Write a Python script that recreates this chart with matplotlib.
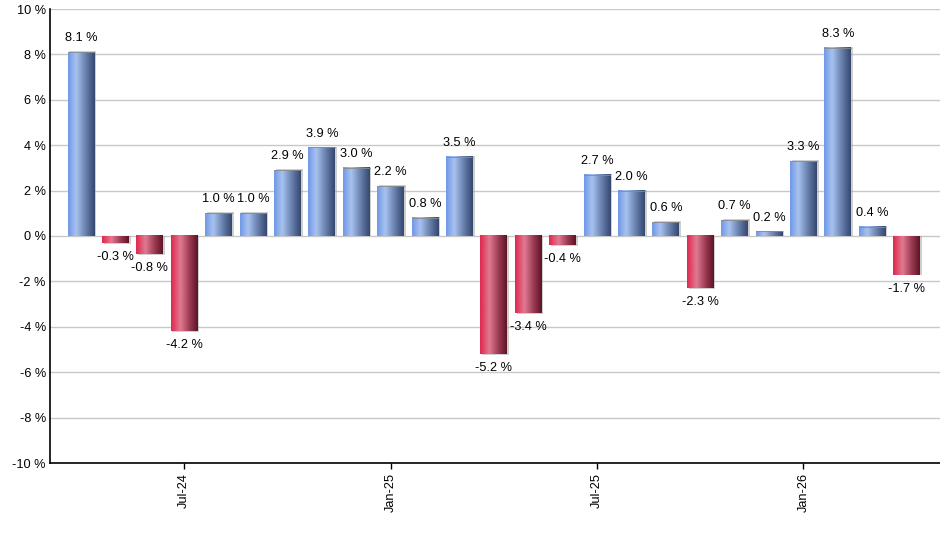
import numpy as np
import matplotlib
matplotlib.use("Agg")
import matplotlib.pyplot as plt
from matplotlib.colors import LinearSegmentedColormap
from matplotlib.patches import Rectangle

# monthly returns, Apr-24 .. Apr-26
months = ['Apr-24', 'May-24', 'Jun-24', 'Jul-24', 'Aug-24', 'Sep-24', 'Oct-24', 'Nov-24',
          'Dec-24', 'Jan-25', 'Feb-25', 'Mar-25', 'Apr-25', 'May-25', 'Jun-25', 'Jul-25',
          'Aug-25', 'Sep-25', 'Oct-25', 'Nov-25', 'Dec-25', 'Jan-26', 'Feb-26', 'Mar-26', 'Apr-26']
returns = [8.1, -0.3, -0.8, -4.2, 1.0, 1.0, 2.9, 3.9, 3.0, 2.2, 0.8, 3.5, -5.2, -3.4, -0.4,
           2.7, 2.0, 0.6, -2.3, 0.7, 0.2, 3.3, 8.3, 0.4, -1.7]
tick_months = ['Jul-24', 'Jan-25', 'Jul-25', 'Jan-26']

plt.rcParams['font.family'] = ['Liberation Sans', 'DejaVu Sans']

blue_cmap = LinearSegmentedColormap.from_list(
    'blue', [(0.0, '#6f98e6'), (0.3, '#a9c3f0'), (0.65, '#6a82b0'), (1.0, '#34486f')])
red_cmap = LinearSegmentedColormap.from_list(
    'red', [(0.0, '#e0284e'), (0.35, '#e07a92'), (0.7, '#9a3a52'), (1.0, '#5e1426')])

fig = plt.figure(figsize=(9.4, 5.5), dpi=100)
ax = fig.add_axes([50 / 940, 1 - 463 / 550, 890 / 940, 454 / 550])

x = np.arange(len(returns))
width = 0.78
grad = np.linspace(0, 1, 64).reshape(1, -1)
fs = 9.2

bars = ax.bar(x, returns, width, color='none', edgecolor='none', zorder=3)
for bar, val in zip(bars, returns):
    x0 = bar.get_x()
    w = bar.get_width()
    y0, y1 = min(0, val), max(0, val)
    # soft shadow to the right
    ax.add_patch(Rectangle((x0 + 0.05, y0 - 0.04 if val < 0 else y0), w, y1 - y0 + 0.04,
                           facecolor='#a0a0a0', edgecolor='none', alpha=0.5, zorder=2))
    cmap = blue_cmap if val >= 0 else red_cmap
    ax.imshow(grad, cmap=cmap, aspect='auto', extent=(x0, x0 + w, y0, y1),
              interpolation='bicubic', zorder=3)
    if val >= 0:
        ax.plot([x0, x0 + w], [val, val], color='#8a8a8a', lw=0.6, zorder=4)
        ax.text(x0 + w / 2, val + 0.35, f'{val:.1f} %', ha='center', va='bottom', fontsize=fs, zorder=5)
    else:
        ax.text(x0 + w / 2, val - 0.35, f'{val:.1f} %', ha='center', va='top', fontsize=fs, zorder=5)

ax.set_xlim(-0.9, 24.97)
ax.set_ylim(-10, 10)
ax.set_yticks(range(-10, 11, 2))
ax.set_yticklabels([f'{v} %' for v in range(-10, 11, 2)], fontsize=fs)
ax.set_xticks([months.index(m) for m in tick_months])
ax.set_xticklabels(tick_months, rotation=90, fontsize=fs)
ax.tick_params(axis='y', length=0, pad=3)
ax.tick_params(axis='x', length=4, width=1, pad=3)
ax.grid(True, axis='y', color='#c8c8c8', lw=1, zorder=0)
ax.set_axisbelow(True)
for s in ['top', 'right']:
    ax.spines[s].set_visible(False)
ax.spines['left'].set_linewidth(1.2)
ax.spines['bottom'].set_linewidth(1.2)

fig.savefig('out.png', dpi=100)
